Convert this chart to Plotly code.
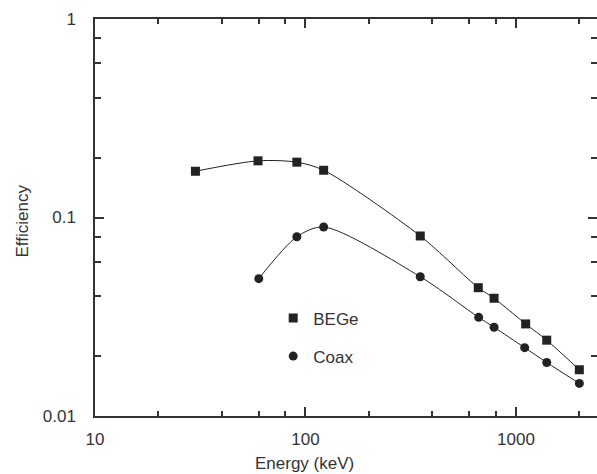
import plotly.graph_objects as go

# BEGe detector efficiency
bege_energy = [30, 59.5, 91, 122, 351, 662, 787, 1112, 1400, 2000]
bege_eff = [0.171, 0.193, 0.190, 0.173, 0.0807, 0.0443, 0.0392, 0.0291, 0.0241, 0.0171]

# Coax detector efficiency
coax_energy = [60, 91, 122, 351, 665, 787, 1100, 1400, 2000]
coax_eff = [0.0492, 0.080, 0.0896, 0.0503, 0.0314, 0.028, 0.0221, 0.0186, 0.0146]

x_major = [10, 100, 1000]
x_major_text = ["10", "100", "1000"]
x_minor = [20, 40, 60, 80, 200, 400, 600, 800, 2000]
y_major = [0.01, 0.1, 1]
y_major_text = ["0.01", "0.1", "1"]
y_minor = [0.02, 0.04, 0.06, 0.08, 0.2, 0.4, 0.6, 0.8]

ink = "#222222"
txt = "#333333"
axc = "#333333"
fs = 17

fig = go.Figure()
# smooth fitted curves (no legend entry)
for xs, ys in [(bege_energy, bege_eff), (coax_energy, coax_eff)]:
    fig.add_trace(go.Scatter(
        x=xs, y=ys, mode="lines", showlegend=False, hoverinfo="skip",
        line=dict(color=ink, width=1, shape="spline", smoothing=0.8),
    ))
# measured points
fig.add_trace(go.Scatter(
    x=bege_energy, y=bege_eff, name="BEGe", mode="markers",
    marker=dict(symbol="square", size=9, color=ink),
    legendgroup="a",
))
fig.add_trace(go.Scatter(
    x=coax_energy, y=coax_eff, name="Coax", mode="markers",
    marker=dict(symbol="circle", size=9, color=ink),
    legendgroup="b",
))

fig.update_xaxes(
    type="log", showgrid=False, zeroline=False,
    showline=True, linecolor=axc, linewidth=1.5, mirror="ticks",
    ticks="inside", ticklen=9, tickwidth=1.5, tickcolor=axc,
    tickfont=dict(size=fs, color=txt),
    range=[1, 3.385], tickmode="array", tickvals=x_major, ticktext=x_major_text,
    minor=dict(tickmode="array", tickvals=x_minor, ticks="inside", ticklen=5,
               tickwidth=1.5, tickcolor=axc),
    ticklabelstandoff=7,
)
fig.update_yaxes(
    type="log", showgrid=False, zeroline=False,
    showline=True, linecolor=axc, linewidth=1.5, mirror="ticks",
    ticks="inside", ticklen=9, tickwidth=1.5, tickcolor=axc,
    tickfont=dict(size=fs, color=txt),
    range=[-2, 0], tickmode="array", tickvals=y_major, ticktext=y_major_text,
    minor=dict(tickmode="array", tickvals=y_minor, ticks="inside", ticklen=6,
               tickwidth=1.5, tickcolor=axc),
    ticklabelstandoff=14,
)

fig.add_annotation(text="Energy (keV)", xref="paper", yref="paper",
                   x=0.418, y=-0.12, xanchor="center", yanchor="middle",
                   showarrow=False, font=dict(size=fs, color=txt))
fig.add_annotation(text="Efficiency", xref="paper", yref="paper",
                   x=-0.1454, y=0.49, xanchor="center", yanchor="middle",
                   textangle=-90, showarrow=False, font=dict(size=fs, color=txt))

fig.update_layout(
    width=597, height=474,
    margin=dict(l=95, r=0, t=19, b=58, autoexpand=False),
    paper_bgcolor="white", plot_bgcolor="white",
    font=dict(family="Liberation Sans, Arial, sans-serif", size=fs, color=txt),
    legend=dict(x=0.355, y=0.291, xanchor="left", yanchor="top",
                bgcolor="rgba(0,0,0,0)", font=dict(size=fs, color=txt),
                tracegroupgap=13, traceorder="grouped"),
    showlegend=True,
)

fig.write_html("out.html", config={"displayModeBar": False},
               post_script="document.body.style.margin='0';document.body.style.padding='0';")
